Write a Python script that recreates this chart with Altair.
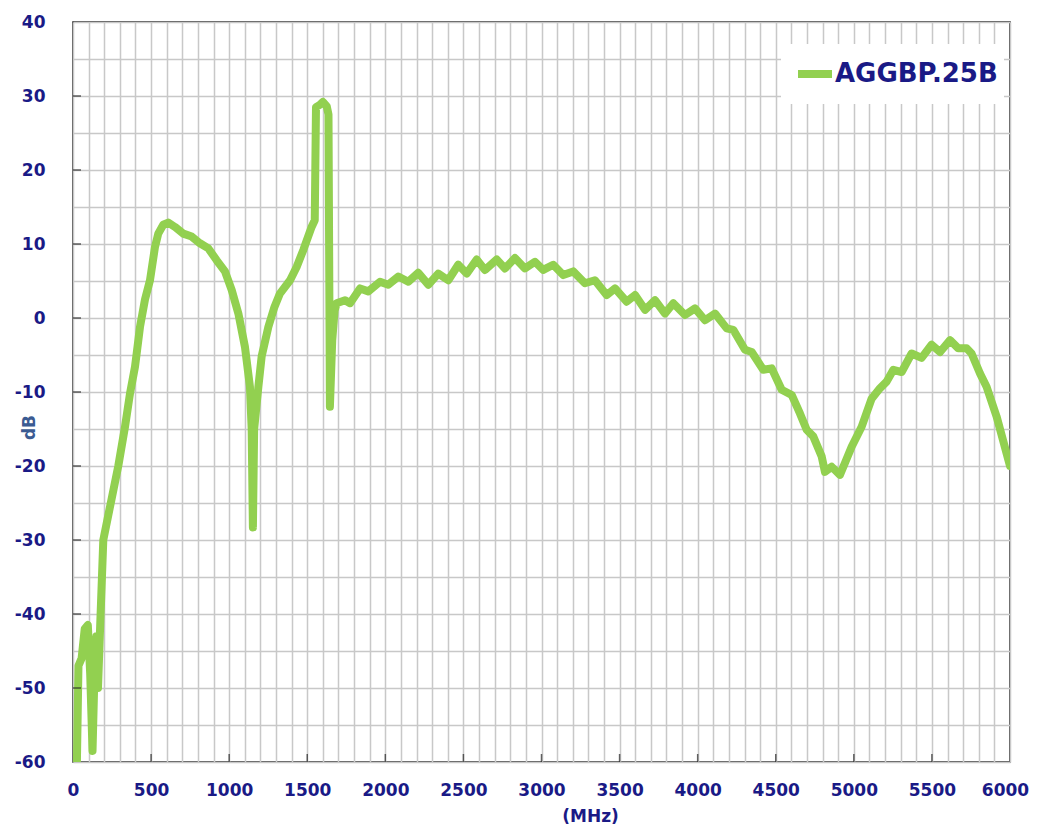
import altair as alt
import pandas as pd

# Frequency (MHz) and response (dB)
freq = [25, 35, 55, 75, 95, 110, 125, 140, 150, 160, 175, 194, 237, 290, 333, 365, 397,
        429, 461, 493, 525, 546, 578, 610, 653, 706, 760, 813, 867, 920, 973, 1016,
        1059, 1101, 1133, 1144, 1152, 1160, 1187, 1208, 1251, 1290, 1325, 1390, 1432,
        1475, 1528, 1548, 1556, 1580, 1600, 1625, 1636, 1645, 1660, 1675, 1688, 1742,
        1774, 1838, 1891, 1966, 2019, 2083, 2147, 2211, 2275, 2339, 2403, 2467, 2521,
        2585, 2638, 2713, 2766, 2830, 2894, 2958, 3011, 3075, 3139, 3203, 3278, 3342,
        3417, 3471, 3545, 3599, 3663, 3727, 3791, 3844, 3919, 3983, 4047, 4111, 4186,
        4228, 4303, 4346, 4420, 4474, 4538, 4602, 4655, 4698, 4740, 4794, 4815, 4858,
        4911, 4943, 4986, 5050, 5114, 5167, 5210, 5253, 5306, 5370, 5434, 5498, 5552,
        5616, 5669, 5722, 5754, 5808, 5850, 5914, 6000]
db = [-60, -47, -46, -42, -41.5, -48, -58.5, -46, -43, -50, -41, -30, -25.5, -20, -14.7,
      -10.2, -6.6, -1.2, 2.5, 5.1, 9.6, 11.4, 12.6, 12.9, 12.3, 11.4, 11.0, 10.1, 9.4,
      7.8, 6.3, 3.8, 0.6, -3.9, -9.3, -15, -28.3, -15, -9.3, -5.2, -1.2, 1.5, 3.3, 5.1,
      6.9, 9.2, 12.3, 13.2, 28.5, 28.8, 29.2, 28.6, 27.5, -12, -3, 1.0, 2.0, 2.4, 2.0,
      4.0, 3.6, 4.9, 4.5, 5.6, 4.9, 6.1, 4.5, 6.0, 5.1, 7.2, 6.0, 7.9, 6.5, 7.9, 6.7,
      8.1, 6.7, 7.6, 6.5, 7.2, 5.8, 6.3, 4.7, 5.1, 3.1, 4.0, 2.2, 3.1, 1.1, 2.4, 0.6,
      2.0, 0.4, 1.3, -0.3, 0.6, -1.4, -1.6, -4.3, -4.6, -7.0, -6.8, -9.7, -10.4, -12.9,
      -15.1, -16.0, -18.7, -20.8, -20.1, -21.2, -19.6, -17.4, -14.7, -10.9, -9.5, -8.6,
      -7.0, -7.3, -4.8, -5.4, -3.6, -4.6, -3.0, -4.1, -4.1, -4.8, -7.5, -9.3, -13.3,
      -20.0]
series_name = "AGGBP.25B"

x_grid = list(range(0, 6001, 100))
y_grid = list(range(-60, 41, 5))
x_major = [500, 1000, 1500, 2000, 2500, 3000, 3500, 4000, 4500, 5000, 5500]
y_major = [-50, -40, -30, -20, -10, 0, 10, 20, 30]

df = pd.DataFrame({"f": freq, "db": db, "series": series_name})
xt = pd.DataFrame({"f": x_major})
yt = pd.DataFrame({"db": y_major})

NAVY = "#1a1a86"
FONT = "DejaVu Sans"
GREEN = "#92d050"

xscale = alt.Scale(domain=[0, 6000], nice=False)
yscale = alt.Scale(domain=[-60, 40], nice=False)

x_axis = alt.Axis(values=x_grid,
                  labelExpr="datum.value % 500 == 0 ? '' + datum.value : ''",
                  labelOffset={"condition": {"test": "datum.value == 6000", "value": -5},
                               "value": 0},
                  grid=True, gridColor="#c8c8c8", gridWidth=1.5,
                  domain=False, ticks=False, labelPadding=20,
                  labelFont=FONT, labelFontSize=17, labelFontWeight="bold",
                  labelColor=NAVY, labelFlush=False, labelOverlap=False,
                  title="(MHz)", titleFont=FONT, titleFontSize=17,
                  titleFontWeight="bold", titleColor=NAVY,
                  titleX=517, titleY=54, titleBaseline="middle", titleAlign="center")
y_axis = alt.Axis(values=y_grid,
                  labelExpr="datum.value % 10 == 0 ? '' + datum.value : ''",
                  grid=True, gridColor="#c8c8c8", gridWidth=1.5,
                  domain=False, ticks=False, labelPadding=28,
                  labelFont=FONT, labelFontSize=17, labelFontWeight="bold",
                  labelColor=NAVY, labelFlush=False, labelOverlap=False,
                  title="dB", titleFont=FONT, titleFontSize=17,
                  titleFontWeight="bold", titleColor="#3b5b92",
                  titleAngle=270, titleX=-44, titleY=405,
                  titleBaseline="middle", titleAlign="center")

line = alt.Chart(df).mark_line(strokeWidth=8, strokeCap="round", strokeJoin="round",
                               clip=True).encode(
    x=alt.X("f:Q", scale=xscale, axis=x_axis),
    y=alt.Y("db:Q", scale=yscale, axis=y_axis),
    color=alt.Color("series:N", scale=alt.Scale(range=[GREEN]),
                    legend=alt.Legend(orient="none", legendX=708, legendY=22,
                                      title=None, fillColor="white", padding=6,
                                      symbolType="M-0.65,0H1.05M0,0.4",
                                      symbolSize=1600, symbolStrokeWidth=8,
                                      labelFont=FONT, labelFontSize=26,
                                      labelFontWeight="bold", labelColor=NAVY,
                                      labelOffset=0, labelLimit=400)),
)

xticks = alt.Chart(xt).mark_tick(orient="vertical", size=16, thickness=1.5,
                                 color="#222222", clip=True).encode(
    x=alt.X("f:Q", scale=xscale, axis=x_axis),
    y=alt.datum(-60, scale=yscale, axis=y_axis))
yticks = alt.Chart(yt).mark_tick(orient="horizontal", size=16, thickness=1.5,
                                 color="#222222", clip=True).encode(
    y=alt.Y("db:Q", scale=yscale, axis=y_axis),
    x=alt.datum(0, scale=xscale, axis=x_axis))

chart = alt.layer(line, xticks, yticks).properties(
    width=937, height=740,
    autosize=alt.AutoSizeParams(type="none"),
    padding={"left": 65, "top": 14, "right": 20, "bottom": 64},
).configure(background="white").configure_view(stroke="#1a1a1a", strokeWidth=1.5)

chart.save("out.html", embed_options={"renderer": "svg", "actions": False})
